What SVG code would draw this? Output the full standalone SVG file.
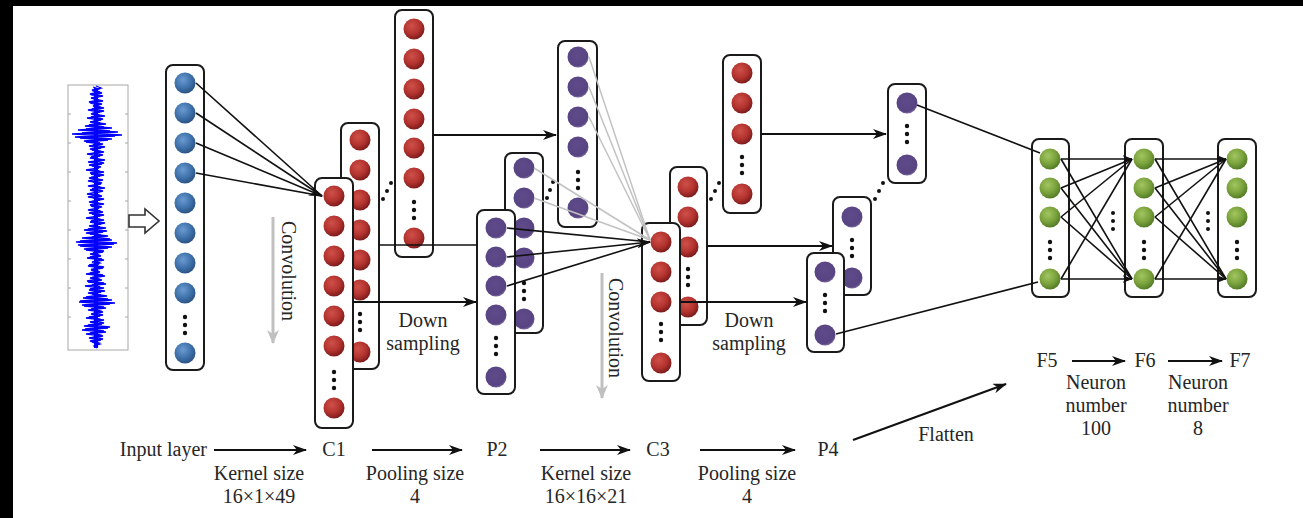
<svg xmlns="http://www.w3.org/2000/svg" width="1303" height="518" viewBox="0 0 1303 518">
  <style>
    .box { fill: #ffffff; stroke: #1a1a1a; stroke-width: 2; }
    .nb { fill: url(#gBlue); }
    .nr { fill: url(#gRed); }
    .np { fill: url(#gPurple); }
    .ng { fill: url(#gGreen); }
    .dot { fill: #111111; }
    .conn { fill: none; stroke: #111111; stroke-width: 1.6; }
    .thick { stroke-width: 2.2; }
    .grey { fill: none; stroke: #c2c2c2; stroke-width: 1.5; }
    .convArrow { fill: none; stroke: #c0c0c0; stroke-width: 3; }
    .wave { fill: none; stroke: #0000ff; stroke-width: 1.3; }
    .lbl { font-family: "Liberation Serif", "Times New Roman", serif; font-size: 20px; fill: #262626; }
    .mid { text-anchor: middle; }
  </style>
  <defs>
    <radialGradient id="gBlue" cx="40%" cy="35%" r="65%">
      <stop offset="0" stop-color="#6b9ad0"/>
      <stop offset="0.6" stop-color="#3f72ab"/>
      <stop offset="1" stop-color="#2b5486"/>
    </radialGradient>
    <radialGradient id="gRed" cx="40%" cy="35%" r="65%">
      <stop offset="0" stop-color="#cf4f49"/>
      <stop offset="0.6" stop-color="#b3332f"/>
      <stop offset="1" stop-color="#7e1c1c"/>
    </radialGradient>
    <radialGradient id="gPurple" cx="45%" cy="40%" r="60%">
      <stop offset="0" stop-color="#604b8a"/>
      <stop offset="0.85" stop-color="#584482"/>
      <stop offset="1" stop-color="#7c6aa0"/>
    </radialGradient>
    <radialGradient id="gGreen" cx="40%" cy="35%" r="65%">
      <stop offset="0" stop-color="#a2c661"/>
      <stop offset="0.6" stop-color="#7aa23c"/>
      <stop offset="1" stop-color="#557d27"/>
    </radialGradient>
    <marker id="ah" viewBox="0 0 14 10" refX="13" refY="5" markerWidth="14" markerHeight="10" markerUnits="userSpaceOnUse" orient="auto">
      <path d="M0,0 L14,5 L0,10 L4,5 z" fill="#111111"/>
    </marker>
    <marker id="ahs" viewBox="0 0 10 8" refX="9.5" refY="4" markerWidth="10" markerHeight="8" markerUnits="userSpaceOnUse" orient="auto">
      <path d="M0,0 L10,4 L0,8 L3,4 z" fill="#111111"/>
    </marker>
    <marker id="ahg" viewBox="0 0 14 12" refX="13" refY="6" markerWidth="14" markerHeight="12" markerUnits="userSpaceOnUse" orient="auto">
      <path d="M0,0 L14,6 L0,12 L4,6 z" fill="#c0c0c0"/>
    </marker>
  </defs>

  <!-- canvas and frame edges -->
  <rect x="0" y="0" width="1303" height="518" fill="#ffffff"/>
  <rect x="0" y="0" width="1303" height="6" fill="#000000"/>
  <rect x="0" y="0" width="13" height="518" fill="#000000"/>

  <!-- raw vibration signal -->
  <g id="signal">
    <rect x="68" y="85" width="60" height="265" fill="#ffffff" stroke="#a8a8a8" stroke-width="1"/>
    <path d="M68,114h3M68,143h3M68,172h3M68,201h3M68,230h3M68,259h3M68,288h3M68,317h3M128,114h-3M128,143h-3M128,172h-3M128,201h-3M128,230h-3M128,259h-3M128,288h-3M128,317h-3" stroke="#a8a8a8" stroke-width="1"/>
    <line x1="96" y1="88" x2="96" y2="348" stroke="#0000ee" stroke-width="4"/>
    <polyline class="wave" points="96,86 101,88 92,90 100,92 90,94 103,96 91,98 99,100 89,102 102,104 93,106 104,108 88,110 100,112 91,114 105,116 87,118 101,120 90,122 106,124 85,126 112,128 78,130 118,132 72,134 115,136 80,138 108,140 86,142 103,144 89,146 101,148 92,150 104,152 87,154 100,156 90,158 105,160 88,162 102,164 92,166 99,168 86,170 104,172 91,174 100,176 89,178 103,180 93,182 101,184 88,186 105,188 90,190 98,192 87,194 102,196 93,198 100,200 89,202 104,204 91,206 99,208 88,210 103,212 92,214 100,216 86,218 104,220 90,222 101,224 89,226 106,228 84,230 103,232 90,234 108,236 82,238 112,240 76,242 114,244 80,246 108,248 86,250 103,252 90,254 101,256 87,258 104,260 92,262 99,264 88,266 103,268 91,270 100,272 86,274 105,276 90,278 102,280 88,282 106,284 85,286 104,288 89,290 101,292 92,294 107,296 83,298 112,300 79,302 110,304 84,306 106,308 88,310 103,312 91,314 100,316 86,318 104,320 90,322 102,324 84,326 108,328 82,330 106,332 86,334 103,336 89,338 101,340 92,342 100,344 94,346 97,348"/>
    <polyline class="wave" points="93,87 99,89 94,91 102,93 92,95 98,97 95,99 103,101 90,103 97,105 100,107 92,109 104,111 94,113 99,115 91,117 103,119 95,121 100,123 89,125 104,127 86,129 110,131 82,133 122,135 75,137 112,139 84,141 100,143 93,145 105,147 90,149 99,151 94,153 103,155 91,157 98,159 95,161 104,163 89,165 101,167 94,169 99,171 90,173 104,175 93,177 98,179 88,181 102,183 95,185 100,187 92,189 103,191 95,193 99,195 88,197 104,199 94,201 98,203 90,205 102,207 95,209 100,211 89,213 104,215 93,217 99,219 91,221 105,223 94,225 100,227 88,229 107,231 86,233 101,235 92,237 110,239 80,241 117,243 78,245 112,247 84,249 104,251 93,253 99,255 90,257 102,259 95,261 100,263 89,265 104,267 93,269 98,271 90,273 103,275 94,277 99,279 87,281 104,283 92,285 100,287 90,289 105,291 88,293 101,295 86,297 108,299 80,301 115,303 82,305 104,307 91,309 100,311 94,313 103,315 89,317 99,319 95,321 104,323 88,325 110,327 85,329 104,331 90,333 100,335 94,337 103,339 90,341 99,343 95,345 98,347"/>
  </g>

  <!-- hollow arrow from signal to input layer -->
  <g id="feed-arrow">
    <path d="M129,215 H145 V209 L159,221 L145,233 V227 H129 Z" fill="#ffffff" stroke="#333333" stroke-width="1.6"/>
  </g>

  <!-- input layer -->
  <g id="input-layer">
    <rect class="box" x="166" y="65" width="38" height="305" rx="7"/>
    <circle class="nb" cx="185" cy="83" r="10.5"/>
    <circle class="nb" cx="185" cy="113" r="10.5"/>
    <circle class="nb" cx="185" cy="143" r="10.5"/>
    <circle class="nb" cx="185" cy="173" r="10.5"/>
    <circle class="nb" cx="185" cy="203" r="10.5"/>
    <circle class="nb" cx="185" cy="233" r="10.5"/>
    <circle class="nb" cx="185" cy="263" r="10.5"/>
    <circle class="nb" cx="185" cy="293" r="10.5"/>
    <circle class="dot" cx="185" cy="317" r="2.2"/>
    <circle class="dot" cx="185" cy="325" r="2.2"/>
    <circle class="dot" cx="185" cy="333" r="2.2"/>
    <circle class="nb" cx="185" cy="353" r="10.5"/>
  </g>

  <!-- C1 feature maps -->
  <g id="c1-map3">
    <rect class="box" x="395" y="10" width="38" height="247" rx="7"/>
    <circle class="nr" cx="414" cy="29" r="10.5"/>
    <circle class="nr" cx="414" cy="59" r="10.5"/>
    <circle class="nr" cx="414" cy="89" r="10.5"/>
    <circle class="nr" cx="414" cy="119" r="10.5"/>
    <circle class="nr" cx="414" cy="148" r="10.5"/>
    <circle class="nr" cx="414" cy="178" r="10.5"/>
    <circle class="dot" cx="414" cy="202" r="2.2"/>
    <circle class="dot" cx="414" cy="210" r="2.2"/>
    <circle class="dot" cx="414" cy="218" r="2.2"/>
    <circle class="nr" cx="414" cy="238" r="10.5"/>
  </g>
  <g id="c1-map2">
    <rect class="box" x="341" y="123" width="38" height="246" rx="7"/>
    <circle class="nr" cx="360" cy="140" r="10.5"/>
    <circle class="nr" cx="360" cy="170" r="10.5"/>
    <circle class="nr" cx="360" cy="200" r="10.5"/>
    <circle class="nr" cx="360" cy="230" r="10.5"/>
    <circle class="nr" cx="360" cy="260" r="10.5"/>
    <circle class="nr" cx="360" cy="290" r="10.5"/>
    <circle class="dot" cx="360" cy="314" r="2.2"/>
    <circle class="dot" cx="360" cy="322" r="2.2"/>
    <circle class="dot" cx="360" cy="330" r="2.2"/>
    <circle class="nr" cx="360" cy="352" r="10.5"/>
  </g>
  <g id="c1-map1">
    <rect class="box" x="315" y="178" width="38" height="250" rx="7"/>
    <circle class="nr" cx="334" cy="196" r="10.5"/>
    <circle class="nr" cx="334" cy="226" r="10.5"/>
    <circle class="nr" cx="334" cy="256" r="10.5"/>
    <circle class="nr" cx="334" cy="286" r="10.5"/>
    <circle class="nr" cx="334" cy="316" r="10.5"/>
    <circle class="nr" cx="334" cy="346" r="10.5"/>
    <circle class="dot" cx="334" cy="372" r="2.2"/>
    <circle class="dot" cx="334" cy="380" r="2.2"/>
    <circle class="dot" cx="334" cy="388" r="2.2"/>
    <circle class="nr" cx="334" cy="408" r="10.5"/>
  </g>
  <g id="c1-more">
    <circle class="dot" cx="383" cy="199" r="2"/>
    <circle class="dot" cx="387" cy="191" r="2"/>
    <circle class="dot" cx="391" cy="183" r="2"/>
  </g>

  <!-- P2 pooled maps -->
  <g id="p2-map3">
    <rect class="box" x="558" y="41" width="39" height="186" rx="7"/>
    <circle class="np" cx="578" cy="57" r="10.5"/>
    <circle class="np" cx="578" cy="87" r="10.5"/>
    <circle class="np" cx="578" cy="117" r="10.5"/>
    <circle class="np" cx="578" cy="147" r="10.5"/>
    <circle class="dot" cx="578" cy="172" r="2.2"/>
    <circle class="dot" cx="578" cy="180" r="2.2"/>
    <circle class="dot" cx="578" cy="188" r="2.2"/>
    <circle class="np" cx="578" cy="208" r="10.5"/>
  </g>
  <g id="p2-map2">
    <rect class="box" x="505" y="153" width="38" height="180" rx="7"/>
    <circle class="np" cx="524" cy="168" r="10.5"/>
    <circle class="np" cx="524" cy="198" r="10.5"/>
    <circle class="np" cx="524" cy="228" r="10.5"/>
    <circle class="np" cx="524" cy="258" r="10.5"/>
    <circle class="dot" cx="524" cy="283" r="2.2"/>
    <circle class="dot" cx="524" cy="291" r="2.2"/>
    <circle class="dot" cx="524" cy="299" r="2.2"/>
    <circle class="np" cx="524" cy="319" r="10.5"/>
  </g>
  <g id="p2-map1">
    <rect class="box" x="477" y="210" width="38" height="184" rx="7"/>
    <circle class="np" cx="496" cy="228" r="10.5"/>
    <circle class="np" cx="496" cy="257" r="10.5"/>
    <circle class="np" cx="496" cy="286" r="10.5"/>
    <circle class="np" cx="496" cy="315" r="10.5"/>
    <circle class="dot" cx="496" cy="338" r="2.2"/>
    <circle class="dot" cx="496" cy="346" r="2.2"/>
    <circle class="dot" cx="496" cy="354" r="2.2"/>
    <circle class="np" cx="496" cy="377" r="10.5"/>
  </g>
  <g id="p2-more">
    <circle class="dot" cx="547" cy="198" r="2"/>
    <circle class="dot" cx="550" cy="190" r="2"/>
    <circle class="dot" cx="553" cy="182" r="2"/>
  </g>

  <!-- C3 feature maps -->
  <g id="c3-map3">
    <rect class="box" x="723" y="55" width="38" height="158" rx="7"/>
    <circle class="nr" cx="742" cy="73" r="10.5"/>
    <circle class="nr" cx="742" cy="103" r="10.5"/>
    <circle class="nr" cx="742" cy="134" r="10.5"/>
    <circle class="dot" cx="742" cy="157" r="2.2"/>
    <circle class="dot" cx="742" cy="165" r="2.2"/>
    <circle class="dot" cx="742" cy="173" r="2.2"/>
    <circle class="nr" cx="742" cy="194" r="10.5"/>
  </g>
  <g id="c3-map2">
    <rect class="box" x="670" y="167" width="37" height="158" rx="7"/>
    <circle class="nr" cx="688" cy="187" r="10.5"/>
    <circle class="nr" cx="688" cy="217" r="10.5"/>
    <circle class="nr" cx="688" cy="247" r="10.5"/>
    <circle class="dot" cx="688" cy="269" r="2.2"/>
    <circle class="dot" cx="688" cy="277" r="2.2"/>
    <circle class="dot" cx="688" cy="285" r="2.2"/>
    <circle class="nr" cx="688" cy="307" r="10.5"/>
  </g>
  <g id="c3-map1">
    <rect class="box" x="642" y="223" width="38" height="158" rx="7"/>
    <circle class="nr" cx="661" cy="242" r="10.5"/>
    <circle class="nr" cx="661" cy="272" r="10.5"/>
    <circle class="nr" cx="661" cy="302" r="10.5"/>
    <circle class="dot" cx="661" cy="324" r="2.2"/>
    <circle class="dot" cx="661" cy="332" r="2.2"/>
    <circle class="dot" cx="661" cy="340" r="2.2"/>
    <circle class="nr" cx="661" cy="363" r="10.5"/>
  </g>
  <g id="c3-more">
    <circle class="dot" cx="711" cy="199" r="2"/>
    <circle class="dot" cx="715" cy="191" r="2"/>
    <circle class="dot" cx="719" cy="183" r="2"/>
  </g>

  <!-- P4 pooled maps -->
  <g id="p4-map3">
    <rect class="box" x="888" y="84" width="38" height="99" rx="7"/>
    <circle class="np" cx="907" cy="103" r="10.5"/>
    <circle class="dot" cx="907" cy="126" r="2.2"/>
    <circle class="dot" cx="907" cy="134" r="2.2"/>
    <circle class="dot" cx="907" cy="142" r="2.2"/>
    <circle class="np" cx="907" cy="165" r="10.5"/>
  </g>
  <g id="p4-map2">
    <rect class="box" x="833" y="197" width="38" height="98" rx="7"/>
    <circle class="np" cx="852" cy="217" r="10.5"/>
    <circle class="dot" cx="852" cy="240" r="2.2"/>
    <circle class="dot" cx="852" cy="248" r="2.2"/>
    <circle class="dot" cx="852" cy="256" r="2.2"/>
    <circle class="np" cx="852" cy="278" r="10.5"/>
  </g>
  <g id="p4-map1">
    <rect class="box" x="807" y="253" width="37" height="99" rx="7"/>
    <circle class="np" cx="825" cy="272" r="10.5"/>
    <circle class="dot" cx="825" cy="295" r="2.2"/>
    <circle class="dot" cx="825" cy="303" r="2.2"/>
    <circle class="dot" cx="825" cy="311" r="2.2"/>
    <circle class="np" cx="825" cy="335" r="10.5"/>
  </g>
  <g id="p4-more">
    <circle class="dot" cx="875" cy="199" r="2"/>
    <circle class="dot" cx="879" cy="191" r="2"/>
    <circle class="dot" cx="883" cy="183" r="2"/>
  </g>

  <!-- fully connected layers -->
  <g id="f5">
    <rect class="box" x="1032" y="139" width="37" height="158" rx="7"/>
    <circle class="ng" cx="1050" cy="159" r="10.5"/>
    <circle class="ng" cx="1050" cy="188" r="10.5"/>
    <circle class="ng" cx="1050" cy="217" r="10.5"/>
    <circle class="dot" cx="1050" cy="242" r="2.2"/>
    <circle class="dot" cx="1050" cy="250" r="2.2"/>
    <circle class="dot" cx="1050" cy="258" r="2.2"/>
    <circle class="ng" cx="1050" cy="279" r="10.5"/>
  </g>
  <g id="f6">
    <rect class="box" x="1125" y="139" width="38" height="158" rx="7"/>
    <circle class="ng" cx="1144" cy="159" r="10.5"/>
    <circle class="ng" cx="1144" cy="188" r="10.5"/>
    <circle class="ng" cx="1144" cy="217" r="10.5"/>
    <circle class="dot" cx="1144" cy="242" r="2.2"/>
    <circle class="dot" cx="1144" cy="250" r="2.2"/>
    <circle class="dot" cx="1144" cy="258" r="2.2"/>
    <circle class="ng" cx="1144" cy="279" r="10.5"/>
  </g>
  <g id="f7">
    <rect class="box" x="1218" y="139" width="38" height="158" rx="7"/>
    <circle class="ng" cx="1237" cy="159" r="10.5"/>
    <circle class="ng" cx="1237" cy="188" r="10.5"/>
    <circle class="ng" cx="1237" cy="217" r="10.5"/>
    <circle class="dot" cx="1237" cy="242" r="2.2"/>
    <circle class="dot" cx="1237" cy="250" r="2.2"/>
    <circle class="dot" cx="1237" cy="258" r="2.2"/>
    <circle class="ng" cx="1237" cy="279" r="10.5"/>
  </g>
  <g id="fc-more">
    <circle class="dot" cx="1113" cy="213" r="2"/>
    <circle class="dot" cx="1113" cy="221" r="2"/>
    <circle class="dot" cx="1113" cy="229" r="2"/>
    <circle class="dot" cx="1208" cy="213" r="2"/>
    <circle class="dot" cx="1208" cy="221" r="2"/>
    <circle class="dot" cx="1208" cy="229" r="2"/>
  </g>

  <!-- connectors -->
  <g id="connectors">
    <!-- input layer to C1 kernel -->
    <line class="conn" x1="196" y1="83" x2="322" y2="196"/>
    <line class="conn" x1="196" y1="113" x2="322" y2="196"/>
    <line class="conn" x1="196" y1="143" x2="322" y2="196" marker-end="url(#ah)"/>
    <line class="conn" x1="196" y1="173" x2="322" y2="196"/>

    <!-- C1 down sampling to P2 -->
    <line class="conn thick" x1="433" y1="135" x2="556" y2="135" marker-end="url(#ah)"/>
    <line class="conn" x1="379" y1="245" x2="477" y2="245"/>
    <line class="conn thick" x1="353" y1="302" x2="476" y2="302" marker-end="url(#ah)"/>

    <!-- P2 kernel to C3 -->
    <line class="grey" x1="589" y1="57" x2="650" y2="240"/>
    <line class="grey" x1="589" y1="87" x2="650" y2="240"/>
    <line class="grey" x1="589" y1="117" x2="650" y2="240"/>
    <line class="grey" x1="534" y1="168" x2="650" y2="240"/>
    <line class="grey" x1="534" y1="198" x2="650" y2="240"/>
    <line class="conn" x1="507" y1="228" x2="650" y2="242"/>
    <line class="conn" x1="507" y1="257" x2="650" y2="242" marker-end="url(#ah)"/>
    <line class="conn" x1="507" y1="286" x2="650" y2="242"/>

    <!-- C3 down sampling to P4 -->
    <line class="conn thick" x1="761" y1="134" x2="886" y2="134" marker-end="url(#ah)"/>
    <line class="conn thick" x1="707" y1="246" x2="832" y2="246" marker-end="url(#ah)"/>
    <line class="conn thick" x1="680" y1="302" x2="806" y2="302" marker-end="url(#ah)"/>

    <!-- flatten into F5 -->
    <line class="conn" x1="917" y1="105" x2="1040" y2="153"/>
    <line class="conn" x1="836" y1="334" x2="1038" y2="282"/>

    <!-- F5 to F6 -->
    <line class="conn" x1="1061" y1="159" x2="1132" y2="159" marker-end="url(#ahs)"/>
    <line class="conn" x1="1061" y1="188" x2="1132" y2="159"/>
    <line class="conn" x1="1061" y1="217" x2="1132" y2="159"/>
    <line class="conn" x1="1061" y1="279" x2="1132" y2="159"/>
    <line class="conn" x1="1061" y1="159" x2="1132" y2="279"/>
    <line class="conn" x1="1061" y1="188" x2="1132" y2="279"/>
    <line class="conn" x1="1061" y1="217" x2="1132" y2="279"/>
    <line class="conn" x1="1061" y1="279" x2="1132" y2="279" marker-end="url(#ahs)"/>

    <!-- F6 to F7 -->
    <line class="conn" x1="1155" y1="159" x2="1226" y2="159" marker-end="url(#ahs)"/>
    <line class="conn" x1="1155" y1="188" x2="1226" y2="159"/>
    <line class="conn" x1="1155" y1="217" x2="1226" y2="159"/>
    <line class="conn" x1="1155" y1="279" x2="1226" y2="159"/>
    <line class="conn" x1="1155" y1="159" x2="1226" y2="279"/>
    <line class="conn" x1="1155" y1="188" x2="1226" y2="279"/>
    <line class="conn" x1="1155" y1="217" x2="1226" y2="279"/>
    <line class="conn" x1="1155" y1="279" x2="1226" y2="279" marker-end="url(#ahs)"/>

    <!-- convolution direction -->
    <line class="convArrow" x1="273" y1="217" x2="273" y2="343" marker-end="url(#ahg)"/>
    <line class="convArrow" x1="602" y1="273" x2="602" y2="398" marker-end="url(#ahg)"/>

    <!-- layer sequence legend -->
    <line class="conn thick" x1="214" y1="450" x2="306" y2="450" marker-end="url(#ah)"/>
    <line class="conn thick" x1="372" y1="450" x2="462" y2="450" marker-end="url(#ah)"/>
    <line class="conn thick" x1="540" y1="450" x2="630" y2="450" marker-end="url(#ah)"/>
    <line class="conn thick" x1="700" y1="450" x2="795" y2="450" marker-end="url(#ah)"/>
    <line class="conn thick" x1="853" y1="440" x2="1006" y2="384" marker-end="url(#ah)"/>
    <line class="conn thick" x1="1072" y1="361" x2="1125" y2="361" marker-end="url(#ah)"/>
    <line class="conn thick" x1="1168" y1="361" x2="1222" y2="361" marker-end="url(#ah)"/>
  </g>

  <!-- labels -->
  <g id="labels">
    <text class="lbl" transform="translate(282,271) rotate(90)" text-anchor="middle">Convolution</text>
    <text class="lbl" transform="translate(609,328) rotate(90)" text-anchor="middle">Convolution</text>
    <text class="lbl mid" x="423" y="327">Down</text>
    <text class="lbl mid" x="423" y="350">sampling</text>
    <text class="lbl mid" x="749" y="327">Down</text>
    <text class="lbl mid" x="749" y="350">sampling</text>

    <text class="lbl" x="207" y="456" text-anchor="end">Input layer</text>
    <text class="lbl mid" x="334" y="456">C1</text>
    <text class="lbl mid" x="497" y="456">P2</text>
    <text class="lbl mid" x="658" y="456">C3</text>
    <text class="lbl mid" x="828" y="456">P4</text>

    <text class="lbl mid" x="259" y="480">Kernel size</text>
    <text class="lbl mid" x="259" y="503">16×1×49</text>
    <text class="lbl mid" x="415" y="480">Pooling size</text>
    <text class="lbl mid" x="415" y="503">4</text>
    <text class="lbl mid" x="586" y="480">Kernel size</text>
    <text class="lbl mid" x="586" y="503">16×16×21</text>
    <text class="lbl mid" x="747" y="480">Pooling size</text>
    <text class="lbl mid" x="747" y="503">4</text>

    <text class="lbl mid" x="946" y="441">Flatten</text>

    <text class="lbl mid" x="1047" y="367">F5</text>
    <text class="lbl mid" x="1145" y="367">F6</text>
    <text class="lbl mid" x="1240" y="367">F7</text>
    <text class="lbl mid" x="1096" y="389">Neuron</text>
    <text class="lbl mid" x="1096" y="412">number</text>
    <text class="lbl mid" x="1096" y="435">100</text>
    <text class="lbl mid" x="1198" y="389">Neuron</text>
    <text class="lbl mid" x="1198" y="412">number</text>
    <text class="lbl mid" x="1198" y="435">8</text>
  </g>
</svg>
